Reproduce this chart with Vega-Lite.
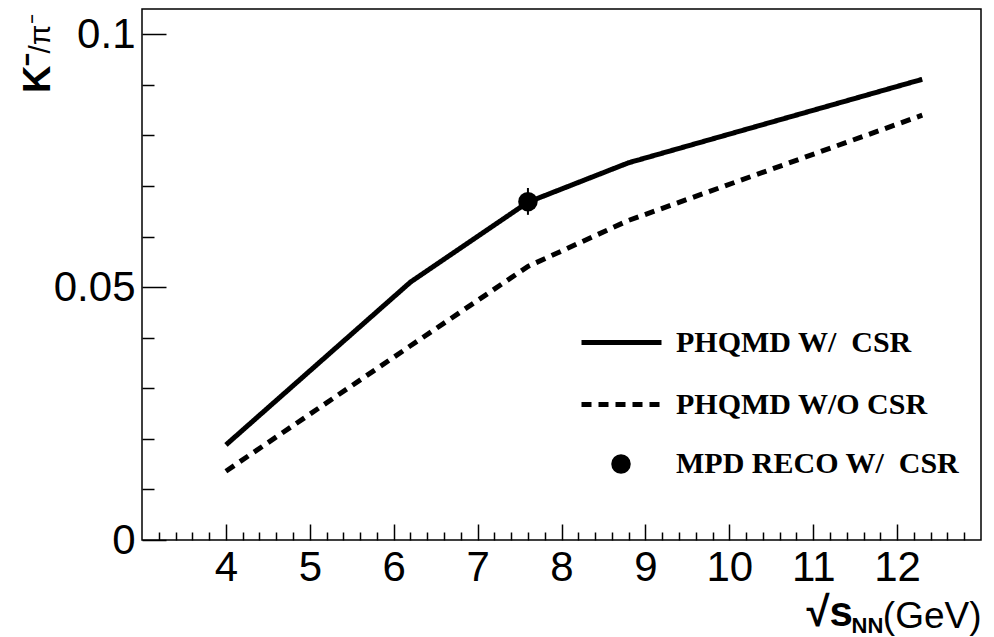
{
  "$schema": "https://vega.github.io/schema/vega-lite/v6.json",
  "width": 839,
  "height": 531,
  "autosize": "none",
  "padding": {"left": 142, "top": 9, "right": 13, "bottom": 97},
  "background": "white",
  "config": {
    "view": {"stroke": "black", "strokeWidth": 1.5},
    "axis": {"grid": false, "domain": false, "tickColor": "black", "tickWidth": 1.5, "labelColor": "black", "titleColor": "black", "labelFont": "Liberation Sans", "titleFont": "Liberation Sans"}
  },
  "datasets": {
    "curves": [
      {"series": "PHQMD W/\u00a0\u00a0CSR", "sqrt_s": 4.0, "ratio": 0.0188},
      {"series": "PHQMD W/\u00a0\u00a0CSR", "sqrt_s": 6.2, "ratio": 0.0510},
      {"series": "PHQMD W/\u00a0\u00a0CSR", "sqrt_s": 7.6, "ratio": 0.0668},
      {"series": "PHQMD W/\u00a0\u00a0CSR", "sqrt_s": 8.8, "ratio": 0.0746},
      {"series": "PHQMD W/\u00a0\u00a0CSR", "sqrt_s": 12.3, "ratio": 0.0911},
      {"series": "PHQMD W/O CSR", "sqrt_s": 4.0, "ratio": 0.0136},
      {"series": "PHQMD W/O CSR", "sqrt_s": 6.2, "ratio": 0.0384},
      {"series": "PHQMD W/O CSR", "sqrt_s": 7.6, "ratio": 0.0541},
      {"series": "PHQMD W/O CSR", "sqrt_s": 8.8, "ratio": 0.0632},
      {"series": "PHQMD W/O CSR", "sqrt_s": 12.3, "ratio": 0.0840}
    ],
    "mpd": [
      {"series": "MPD RECO W/\u00a0\u00a0CSR", "sqrt_s": 7.6, "ratio": 0.0669, "ratio_lo": 0.0643, "ratio_hi": 0.0696}
    ]
  },
  "resolve": {"axis": {"x": "independent", "y": "independent"}},
  "layer": [
    {
      "data": {"name": "curves"},
      "mark": {"type": "line", "color": "black", "strokeWidth": 5, "strokeCap": "butt"},
      "encoding": {
        "x": {"field": "sqrt_s", "type": "quantitative", "scale": {"domain": [3, 13], "nice": false, "zero": false},
          "axis": {"orient": "bottom", "values": [4, 5, 6, 7, 8, 9, 10, 11, 12], "format": "~g", "tickSize": -16, "labelFontSize": 42, "labelPadding": 23, "labelFlush": false,
            "title": "√s", "titleFontWeight": "bold", "titleFontSize": 42, "titleAlign": "left", "titleBaseline": "alphabetic", "titleX": 664, "titleY": 85}},
        "y": {"field": "ratio", "type": "quantitative", "scale": {"domain": [0, 0.105], "nice": false},
          "axis": {"orient": "left", "values": [0, 0.05, 0.1], "format": "~g", "tickSize": -24, "labelFontSize": 42, "labelPadding": 31, "labelFlush": false,
            "title": "K⁻", "titleFontWeight": "bold", "titleFontSize": 38, "titleAngle": -90, "titleAlign": "right", "titleBaseline": "alphabetic", "titleX": -93, "titleY": 43}},
        "strokeDash": {"field": "series", "type": "nominal",
          "scale": {"domain": ["PHQMD W/\u00a0\u00a0CSR", "PHQMD W/O CSR"], "range": [[1, 0], [10, 7]]},
          "legend": {"orient": "none", "legendX": 437, "legendY": 291, "title": null, "padding": 0,
            "symbolType": "stroke", "symbolSize": 6400, "symbolStrokeWidth": 5, "symbolStrokeColor": "black",
            "labelFont": "Liberation Serif", "labelFontWeight": "bold", "labelFontSize": 30, "labelColor": "black", "labelOffset": 12, "labelLimit": 500, "rowPadding": 4}}
      }
    },
    {
      "data": {"name": "mpd"},
      "mark": {"type": "rule", "color": "black", "strokeWidth": 2},
      "encoding": {
        "x": {"field": "sqrt_s", "type": "quantitative",
          "axis": {"orient": "bottom", "values": [3.2, 3.4, 3.6, 3.8, 4.2, 4.4, 4.6, 4.8, 5.2, 5.4, 5.6, 5.8, 6.2, 6.4, 6.6, 6.8, 7.2, 7.4, 7.6, 7.8, 8.2, 8.4, 8.6, 8.8, 9.2, 9.4, 9.6, 9.8, 10.2, 10.4, 10.6, 10.8, 11.2, 11.4, 11.6, 11.8, 12.2, 12.4, 12.6, 12.8],
            "tickSize": -8, "labels": false,
            "title": "NN", "titleFontWeight": "bold", "titleFontSize": 22, "titleAlign": "left", "titleBaseline": "alphabetic", "titleX": 709, "titleY": 92}},
        "y": {"field": "ratio_lo", "type": "quantitative",
          "axis": {"orient": "left", "values": [0.01, 0.02, 0.03, 0.04, 0.06, 0.07, 0.08, 0.09], "tickSize": -12, "labels": false,
            "title": "/π⁻", "titleFontWeight": "normal", "titleFontSize": 30, "titleAngle": -90, "titleAlign": "left", "titleBaseline": "alphabetic", "titleX": -93, "titleY": 44}},
        "y2": {"field": "ratio_hi"}
      }
    },
    {
      "data": {"name": "mpd"},
      "mark": {"type": "point", "filled": true, "color": "black", "opacity": 1, "size": 380},
      "encoding": {
        "x": {"field": "sqrt_s", "type": "quantitative",
          "axis": {"orient": "bottom", "ticks": false, "labels": false,
            "title": "(GeV)", "titleFontWeight": "normal", "titleFontSize": 37, "titleAlign": "right", "titleBaseline": "alphabetic", "titleX": 839, "titleY": 87}},
        "y": {"field": "ratio", "type": "quantitative", "axis": null},
        "shape": {"field": "series", "type": "nominal",
          "scale": {"domain": ["MPD RECO W/\u00a0\u00a0CSR"], "range": ["circle"]},
          "legend": {"orient": "none", "legendX": 464, "legendY": 440, "title": null, "padding": 0,
            "symbolSize": 380, "symbolFillColor": "black", "symbolStrokeColor": "black", "symbolStrokeWidth": 0, "symbolOpacity": 1,
            "labelFont": "Liberation Serif", "labelFontWeight": "bold", "labelFontSize": 30, "labelColor": "black", "labelOffset": 40, "labelLimit": 500}}
      }
    }
  ]
}
